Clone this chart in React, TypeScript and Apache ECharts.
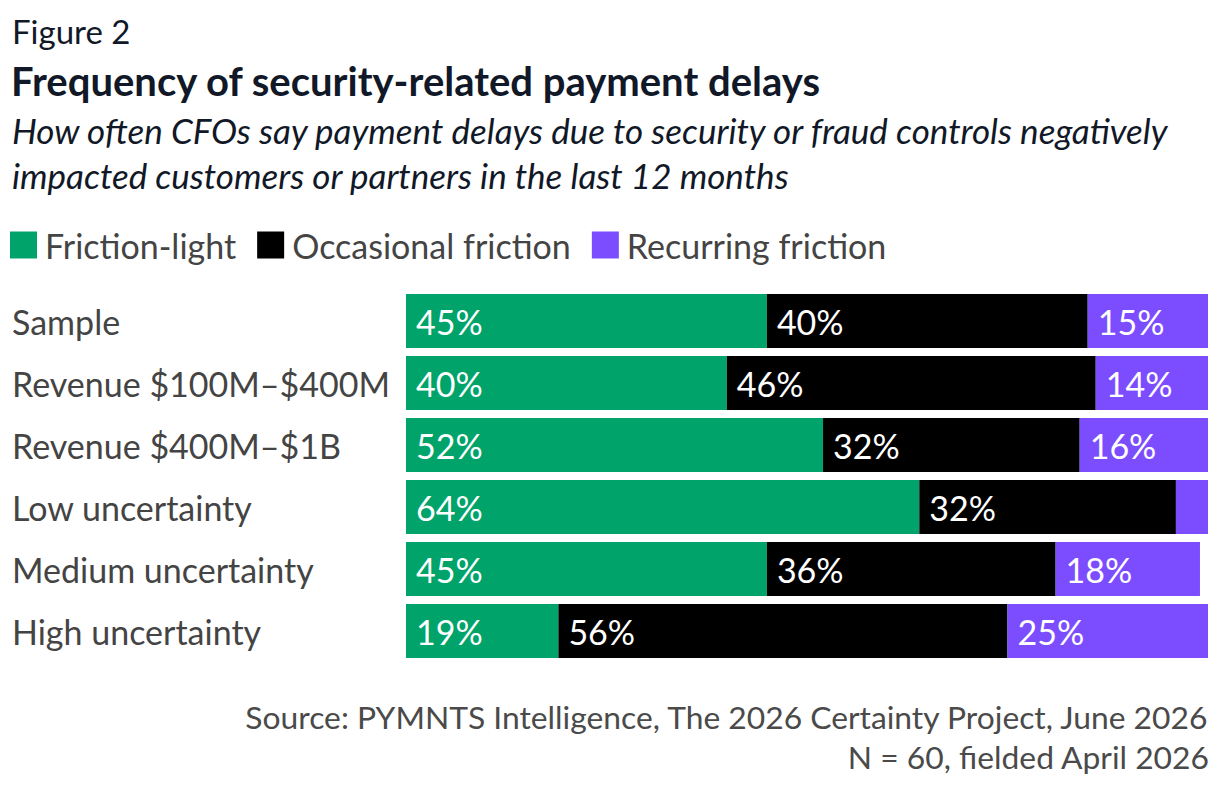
import React, { useEffect, useRef } from "react";
import * as echarts from "echarts";

const categories = [
  "Sample",
  "Revenue $100M–$400M",
  "Revenue $400M–$1B",
  "Low uncertainty",
  "Medium uncertainty",
  "High uncertainty",
];
const seriesNames = ["Friction-light", "Occasional friction", "Recurring friction"];
const frictionLight = [45, 40, 52, 64, 45, 19];
const occasional = [40, 46, 32, 32, 36, 56];
const recurring = [15, 14, 16, 4, 18, 25];
const colors = ["#00A36A", "#000000", "#7C4DFF"];

const FONT = "Lato, 'Noto Sans', sans-serif";

export default function App() {
  const ref = useRef<HTMLDivElement>(null);
  useEffect(() => {
    if (!ref.current) return;
    const chart = echarts.init(ref.current, undefined, { renderer: "svg" });
    const values = [frictionLight, occasional, recurring];
    chart.setOption({
      animation: false,
      textStyle: { fontFamily: FONT },
      grid: { left: 406, right: 12, top: 290, height: 372, containLabel: false },
      legend: {
        left: 5,
        top: 223,
        icon: "rect",
        itemWidth: 27,
        itemHeight: 27,
        itemGap: 21,
        data: seriesNames,
        textStyle: { fontSize: 34, color: "#444444", fontFamily: FONT, padding: [0, 0, 0, 3] },
        selectedMode: false,
      },
      xAxis: {
        type: "value",
        min: 0,
        max: 100,
        show: false,
      },
      yAxis: {
        type: "category",
        inverse: true,
        data: categories,
        axisLine: { show: false },
        axisTick: { show: false },
        splitLine: { show: false },
        axisLabel: {
          align: "left",
          margin: 394,
          fontSize: 34,
          color: "#444444",
          fontFamily: FONT,
        },
      },
      series: seriesNames.map((name, i) => ({
        name,
        type: "bar",
        stack: "total",
        barWidth: 54,
        data: values[i],
        itemStyle: { color: colors[i] },
        label: {
          show: true,
          position: "insideLeft",
          distance: 10,
          color: "#ffffff",
          fontSize: 34,
          fontFamily: FONT,
          formatter: (p: any) => (p.value >= 5 ? `${p.value}%` : ""),
        },
      })),
      graphic: [
        {
          type: "text",
          left: 12,
          top: 14,
          style: { text: "Figure 2", fontSize: 33, fill: "#111827", fontFamily: FONT },
        },
        {
          type: "text",
          left: 11,
          top: 61,
          style: {
            text: "Frequency of security-related payment delays",
            fontSize: 40,
            fontWeight: "bold",
            fill: "#111827",
            fontFamily: FONT,
          },
        },
        {
          type: "text",
          left: 12,
          top: 112,
          style: {
            text: "How often CFOs say payment delays due to security or fraud controls negatively",
            fontSize: 35,
            fontStyle: "italic",
            fill: "#111827",
            fontFamily: FONT,
          },
        },
        {
          type: "text",
          left: 12,
          top: 157,
          style: {
            text: "impacted customers or partners in the last 12 months",
            fontSize: 35,
            fontStyle: "italic",
            fill: "#111827",
            fontFamily: FONT,
          },
        },
        {
          type: "text",
          right: 10,
          top: 701,
          style: {
            text: "Source: PYMNTS Intelligence, The 2026 Certainty Project, June 2026",
            fontSize: 31.8,
            fill: "#4a4a4a",
            fontFamily: FONT,
          },
        },
        {
          type: "text",
          right: 10,
          top: 741,
          style: {
            text: "N = 60, fielded April 2026",
            fontSize: 31.8,
            fill: "#4a4a4a",
            fontFamily: FONT,
          },
        },
      ],
    });
    return () => chart.dispose();
  }, []);
  return (
    <div
      ref={ref}
      style={{ position: "absolute", left: 0, top: 0, width: 1220, height: 786, background: "#ffffff" }}
    />
  );
}
